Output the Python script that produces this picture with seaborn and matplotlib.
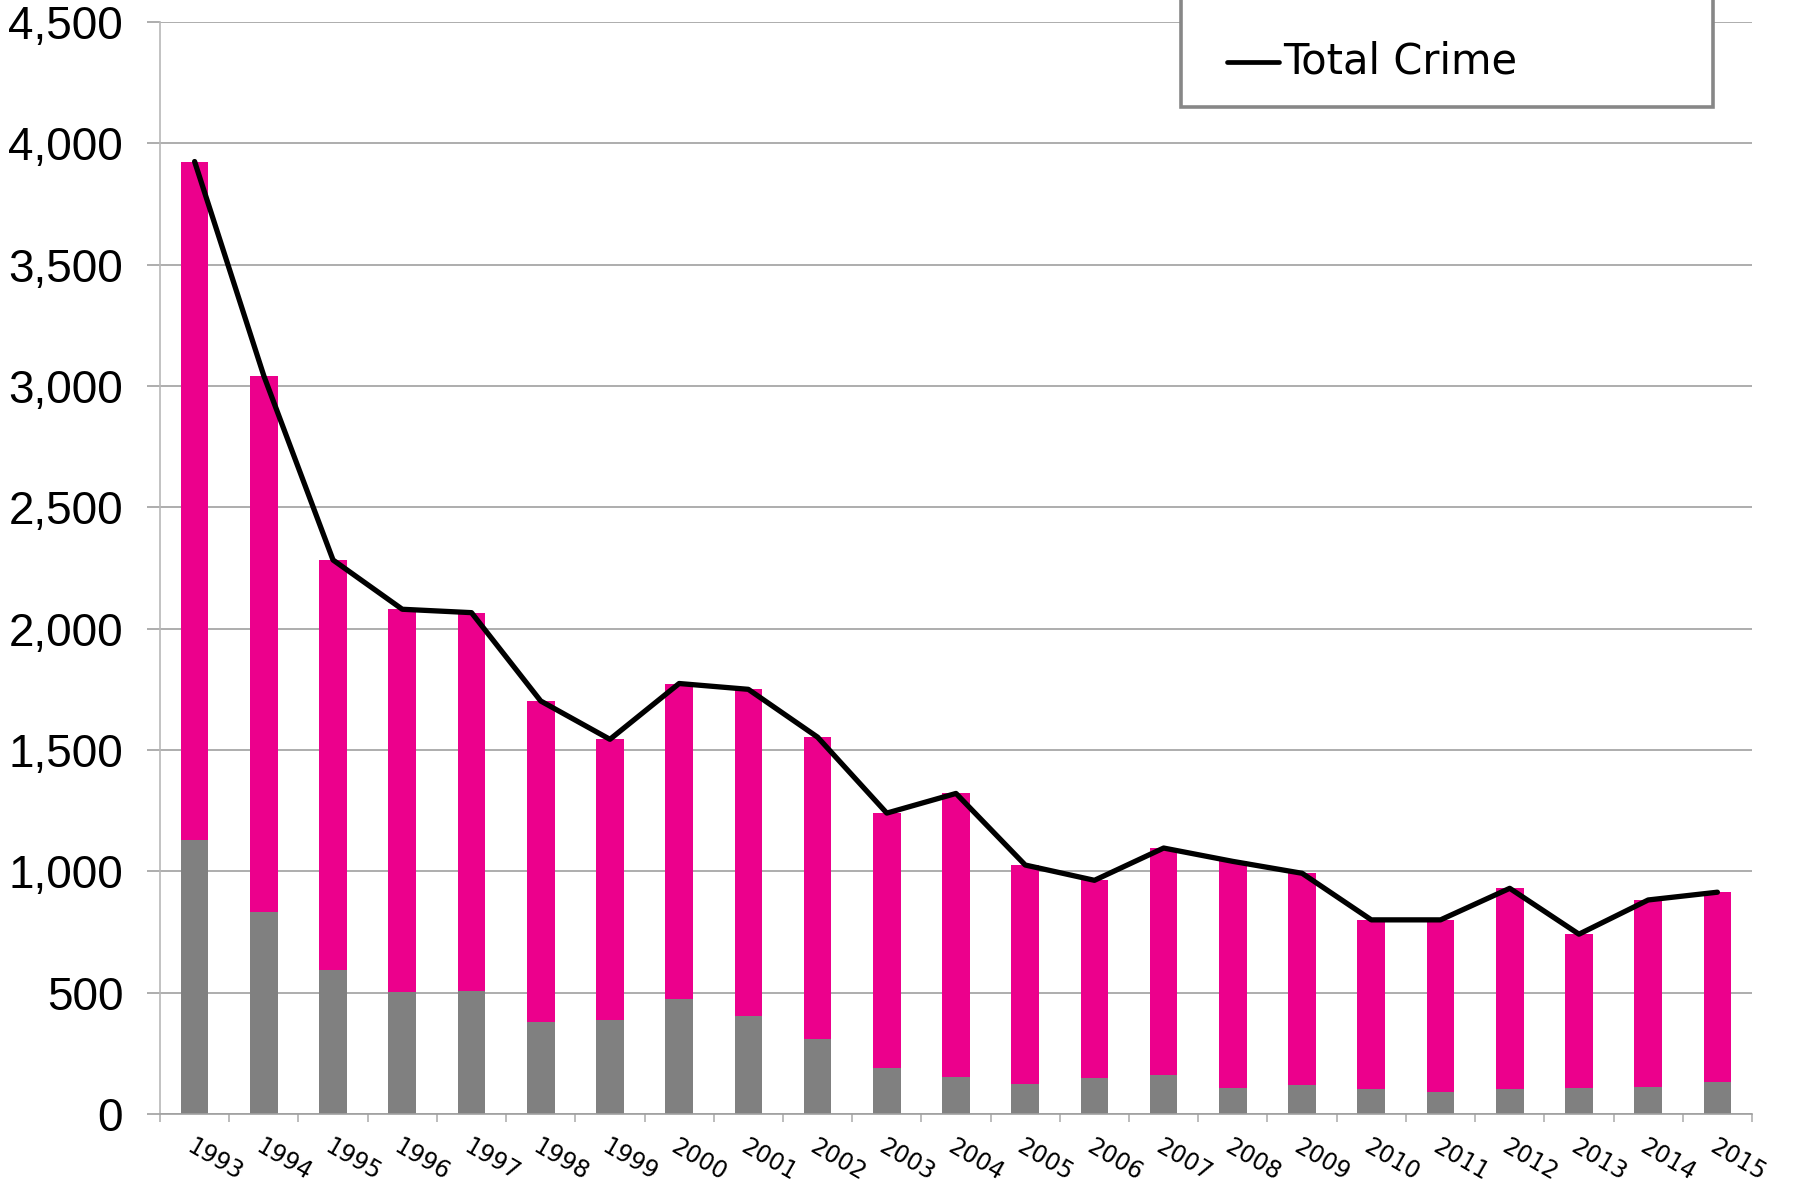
import matplotlib
matplotlib.use("Agg")
import matplotlib.pyplot as plt
from matplotlib.patches import Rectangle
from matplotlib.lines import Line2D
import numpy as np
import pandas as pd
import seaborn as sns

years = [str(y) for y in range(1993, 2016)]
gray_values = [1128, 833, 594, 502, 508, 379, 388, 475, 405, 310, 189, 152,
               125, 150, 160, 108, 119, 103, 91, 102, 107, 111, 132]
total_crime = [3925, 3042, 2283, 2080, 2066, 1702, 1544, 1774, 1750, 1553, 1240, 1321,
               1026, 963, 1096, 1041, 992, 800, 800, 930, 741, 882, 914]
y_ticks = [0, 500, 1000, 1500, 2000, 2500, 3000, 3500, 4000, 4500]

MAGENTA = "#EC008C"
GRAY = "#808080"

sns.set_theme(style="white")
plt.rcParams['font.family'] = ['DejaVu Sans']

fig = plt.figure(figsize=(17.93, 11.88), dpi=100)
ax = fig.add_axes([160/1793, 1 - 1114/1188, (1752-160)/1793, (1114-22)/1188])

df = pd.DataFrame({"year": years, "gray": gray_values, "total": total_crime})
sns.barplot(data=df, x="year", y="total", color=MAGENTA, saturation=1, width=0.4, ax=ax, linewidth=0)
sns.barplot(data=df, x="year", y="gray", color=GRAY, saturation=1, width=0.4, ax=ax, linewidth=0)
pos = np.arange(len(years))
sns.lineplot(x=pos, y=total_crime, color="black", linewidth=3.8, ax=ax, sort=False)

ax.set_xlim(-0.5, len(years) - 0.5)
ax.set_ylim(0, 4500)
ax.set_yticks(y_ticks)
ax.set_yticklabels([f"{v:,}" for v in y_ticks], fontsize=33, color="black",
                   family=["Liberation Sans", "DejaVu Sans"])
ax.yaxis.grid(True, color="#A0A0A0", linewidth=1.2)
ax.set_axisbelow(True)
ax.set_xlabel("")
ax.set_ylabel("")

ax.set_xticks(pos)
ax.set_xticklabels(years, fontsize=17, color="black", rotation=-30, ha="left", va="top",
                   rotation_mode="anchor")
ax.set_xticks(np.arange(-0.5, len(years)), minor=True)
ax.tick_params(axis="x", which="major", length=0, pad=15)
ax.tick_params(axis="x", which="minor", length=6, color="#B0B0B0", width=1.2, direction="out", bottom=True)
ax.tick_params(axis="y", length=9.5, color="#A0A0A0", width=1.2, direction="out", left=True, pad=17)

for s in ["top", "right"]:
    ax.spines[s].set_visible(False)
for s in ["left", "bottom"]:
    ax.spines[s].set_color("#B8B8B8")
    ax.spines[s].set_linewidth(1.2)
ax.spines["bottom"].set_color("#A0A0A0")

# Legend box (top cut off)
x0, x1 = 1181/1793, 1713/1793
yb = 1 - 107/1188
fig.add_artist(Rectangle((x0, yb), x1 - x0, 0.2, transform=fig.transFigure,
                         facecolor="white", edgecolor="#878787", linewidth=2.6, clip_on=False, zorder=5))
ly = 1 - 62/1188
fig.add_artist(Line2D([1227/1793, 1279/1793], [ly, ly], transform=fig.transFigure,
                      color="black", linewidth=3.4, zorder=6))
fig.text(1283/1793, ly, "Total Crime", fontsize=30, va="center", ha="left", color="black", zorder=6)

fig.savefig("out.png", dpi=100)
